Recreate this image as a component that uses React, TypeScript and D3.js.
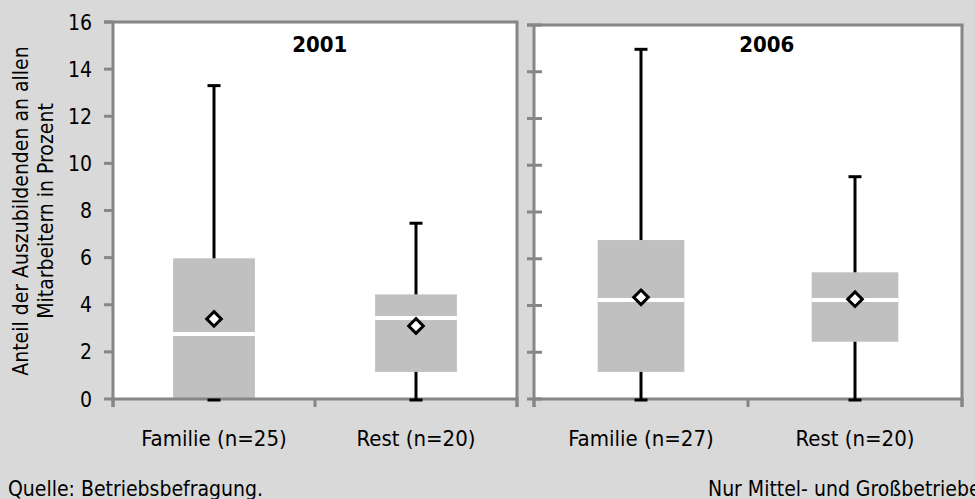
import React from "react";
import * as d3 from "d3";

const years = ["2001", "2006"];
const groups2001 = ["Familie (n=25)", "Rest (n=20)"];
const groups2006 = ["Familie (n=27)", "Rest (n=20)"];
const min2001 = [0, 0];
const q1_2001 = [0, 1.15];
const median2001 = [2.76, 3.44];
const q3_2001 = [5.97, 4.44];
const max2001 = [13.3, 7.46];
const mean2001 = [3.4, 3.1];
const min2006 = [0, 0];
const q1_2006 = [1.16, 2.45];
const median2006 = [4.24, 4.24];
const q3_2006 = [6.8, 5.42];
const max2006 = [14.96, 9.51];
const mean2006 = [4.35, 4.27];
const yTicks = [0, 2, 4, 6, 8, 10, 12, 14, 16];
const yLabelLines = ["Anteil der Auszubildenden an allen", "Mitarbeitern in Prozent"];
const sourceText = "Quelle: Betriebsbefragung.";
const noteText = "Nur Mittel- und Großbetriebe.";

const W = 975;
const H = 499;
const FONT = "'DejaVu Sans Condensed', 'Noto Sans', sans-serif";
const AXIS = "#868686";
const BOXFILL = "#c0c0c0";

type Panel = {
  title: string;
  groups: string[];
  min: number[];
  q1: number[];
  median: number[];
  q3: number[];
  max: number[];
  mean: number[];
  x0: number;
  x1: number;
  top: number;
  bottom: number;
  titleFrac: number;
  labels: boolean;
};

const panels: Panel[] = [
  { title: years[0], groups: groups2001, min: min2001, q1: q1_2001, median: median2001, q3: q3_2001, max: max2001, mean: mean2001,
    x0: 113, x1: 517, top: 22, bottom: 399, titleFrac: 0.512, labels: true },
  { title: years[1], groups: groups2006, min: min2006, q1: q1_2006, median: median2006, q3: q3_2006, max: max2006, mean: mean2006,
    x0: 534, x1: 962, top: 25, bottom: 399, titleFrac: 0.544, labels: false },
];

function PanelView({ p }: { p: Panel }) {
  const y = d3.scaleLinear().domain([0, 16]).range([p.bottom, p.top]);
  const x = d3.scaleBand<string>().domain(p.groups).range([p.x0, p.x1]).padding(0);
  const bw = x.bandwidth() * 0.405;
  const capW = 13;
  const r = 7.3;
  const diamond = (cx: number, cy: number) => `M${cx},${cy - r}L${cx + r},${cy}L${cx},${cy + r}L${cx - r},${cy}Z`;
  const tickLeft = p.labels ? p.x0 - 9 : p.x0 - 7;
  const tickRight = p.labels ? p.x0 : p.x0 + 8;
  const boundaries = [p.x0, ...p.groups.map((g) => (x(g) as number) + x.bandwidth())];
  return (
    <g>
      <rect x={p.x0} y={p.top} width={p.x1 - p.x0} height={p.bottom - p.top} fill="#ffffff" />
      {p.groups.map((g, i) => {
        const cx = (x(g) as number) + x.bandwidth() / 2;
        return (
          <g key={"box" + g}>
            <rect x={cx - bw / 2} y={y(p.q3[i])} width={bw} height={y(p.q1[i]) - y(p.q3[i])} fill={BOXFILL} />
            <line x1={cx - bw / 2} x2={cx + bw / 2} y1={y(p.median[i])} y2={y(p.median[i])} stroke="#ffffff" strokeWidth={4} />
          </g>
        );
      })}
      <line x1={p.x0} x2={p.x0} y1={p.top} y2={p.bottom + 8} stroke={AXIS} strokeWidth={3} />
      <line x1={p.x1} x2={p.x1} y1={p.top} y2={p.bottom + 8} stroke={AXIS} strokeWidth={3} />
      <line x1={tickLeft} x2={p.x1 + 1.5} y1={p.top} y2={p.top} stroke={AXIS} strokeWidth={3} />
      <line x1={p.x0 - 1.5} x2={p.x1 + 1.5} y1={p.bottom} y2={p.bottom} stroke={AXIS} strokeWidth={3} />
      {yTicks.map((t) => (
        <line key={"yt" + t} x1={tickLeft} x2={tickRight} y1={y(t)} y2={y(t)} stroke={AXIS} strokeWidth={3} />
      ))}
      {boundaries.map((b, i) => (
        <line key={"xt" + i} x1={b} x2={b} y1={p.bottom} y2={p.bottom + 8} stroke={AXIS} strokeWidth={3} />
      ))}
      {p.labels &&
        yTicks.map((t) => (
          <text key={"yl" + t} x={92} y={y(t) + 7.6} textAnchor="end" fontSize={21} fontFamily={FONT} fill="#000">
            {t}
          </text>
        ))}
      {p.groups.map((g, i) => {
        const cx = (x(g) as number) + x.bandwidth() / 2;
        return (
          <g key={"wh" + g}>
            <line x1={cx} x2={cx} y1={y(p.max[i])} y2={y(p.q3[i])} stroke="#000" strokeWidth={3} />
            <line x1={cx} x2={cx} y1={y(p.q1[i])} y2={y(p.min[i])} stroke="#000" strokeWidth={3} />
            <line x1={cx - capW / 2} x2={cx + capW / 2} y1={y(p.max[i])} y2={y(p.max[i])} stroke="#000" strokeWidth={3} />
            <line x1={cx - capW / 2} x2={cx + capW / 2} y1={y(p.min[i]) + 1} y2={y(p.min[i]) + 1} stroke="#000" strokeWidth={3} />
            <path d={diamond(cx, y(p.mean[i]))} fill="#fff" stroke="#000" strokeWidth={3} strokeLinejoin="miter" />
            <text x={cx} y={446} textAnchor="middle" fontSize={22} fontFamily={FONT} fill="#000">
              {g}
            </text>
          </g>
        );
      })}
      <text x={p.x0 + (p.x1 - p.x0) * p.titleFrac} y={52} textAnchor="middle" fontSize={22} fontWeight="bold" fontFamily={FONT} fill="#000">
        {p.title}
      </text>
    </g>
  );
}

export default function App() {
  return (
    <svg width={W} height={H} style={{ position: "absolute", left: 0, top: 0, display: "block" }}>
      <rect x={0} y={0} width={W} height={H} fill="#d9d9d9" />
      {panels.map((p) => (
        <PanelView key={p.title} p={p} />
      ))}
      <g transform="translate(28,211) rotate(-90)">
        <text x={0} y={0} textAnchor="middle" fontSize={21} fontFamily={FONT} fill="#000">
          {yLabelLines[0]}
        </text>
        <text x={0} y={25} textAnchor="middle" fontSize={21} fontFamily={FONT} fill="#000">
          {yLabelLines[1]}
        </text>
      </g>
      <text x={8} y={496} fontSize={21} fontFamily={FONT} fill="#000">
        {sourceText}
      </text>
      <text x={708} y={496} fontSize={21} fontFamily={FONT} fill="#000">
        {noteText}
      </text>
    </svg>
  );
}
